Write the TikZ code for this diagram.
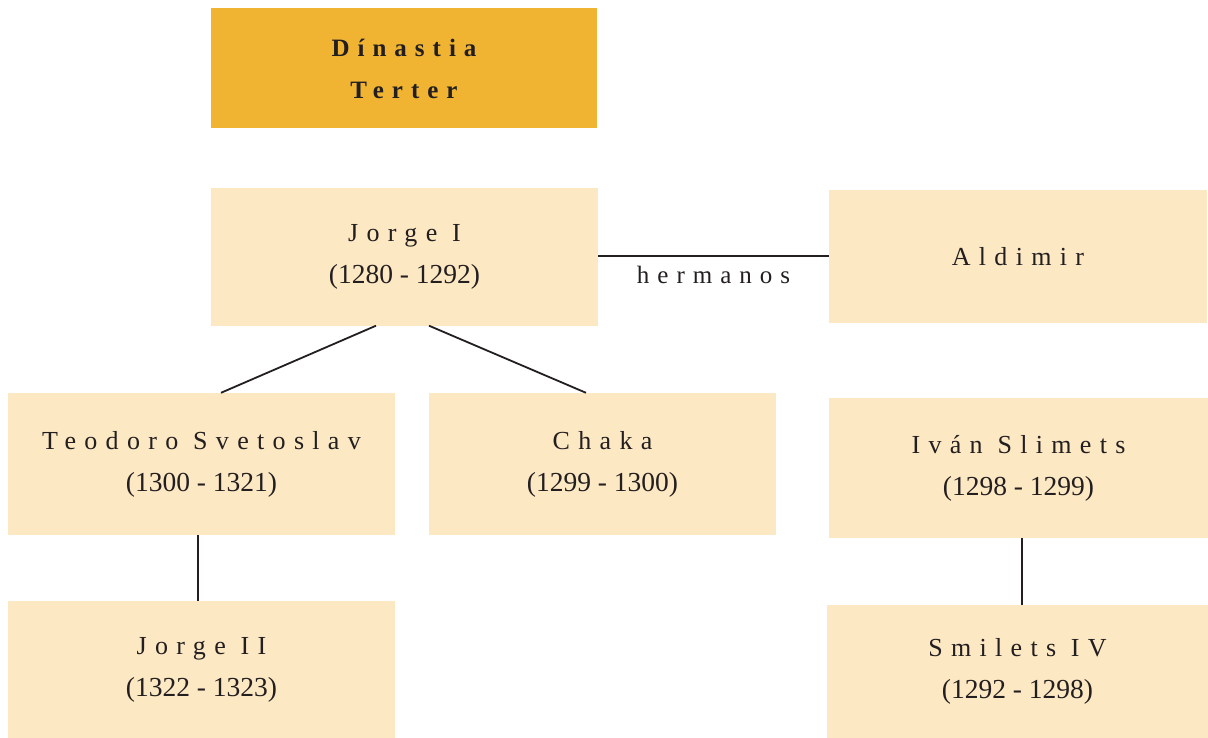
\documentclass[tikz,border=0pt]{standalone}
\usepackage{fontspec}
\setmainfont{Liberation Serif}
\newfontfamily\spacedfont[LetterSpace=32]{Liberation Serif}
\definecolor{gold}{HTML}{F0B432}
\definecolor{cream}{HTML}{FDE8C4}
\definecolor{ink}{HTML}{231F20}
\tikzset{
  box/.style={fill=cream, inner sep=0pt, align=center, text=ink,
    font=\fontsize{26}{42}\selectfont},
  titlebox/.style={fill=gold, inner sep=0pt, align=center, text=ink,
    font=\fontsize{25}{42}\selectfont\bfseries},
  link/.style={draw=ink, line width=1.8pt},
}
\newcommand{\nm}[1]{{\spacedfont #1}}
\newcommand{\dt}[1]{{\fontsize{27.5}{42}\selectfont #1}}
\begin{document}
\begin{tikzpicture}[x=1pt,y=-1pt]
\useasboundingbox (0,0) rectangle (1208,738);
\node[titlebox, minimum width=386pt, minimum height=120pt] (title) at (404,68.5) {\nm{Dínastia}\\\nm{Terter}};
\node[box, minimum width=387pt, minimum height=137pt] (j1) at (404.5,257) {\nm{Jorge I}\\\dt{(1280 - 1292)}};
\node[box, minimum width=378pt, minimum height=133pt] (ald) at (1018,256.5) {\nm{Aldimir}};
\node[box, minimum width=387pt, minimum height=142pt] (teo) at (201.5,464) {\nm{Teodoro Svetoslav}\\\dt{(1300 - 1321)}};
\node[box, minimum width=347pt, minimum height=142pt] (cha) at (602.5,464) {\nm{Chaka}\\\dt{(1299 - 1300)}};
\node[box, minimum width=379pt, minimum height=140pt] (iva) at (1018.5,468) {\nm{Iván Slimets}\\\dt{(1298 - 1299)}};
\node[box, minimum width=387pt, minimum height=137pt] (j2) at (201.5,669.5) {\nm{Jorge II}\\\dt{(1322 - 1323)}};
\node[box, minimum width=381pt, minimum height=133pt] (smi) at (1017.5,671.5) {\nm{Smilets IV}\\\dt{(1292 - 1298)}};
\draw[link] (j1.east |- 0,256) -- (ald.west |- 0,256) node[midway, below=6pt, text=ink, font=\fontsize{25}{30}\selectfont] (herm) {\nm{hermanos}};
\draw[link] (j1.south -| 376,0) -- (teo.north -| 221,0);
\draw[link] (j1.south -| 429,0) -- (cha.north -| 586,0);
\draw[link] (teo.south -| 198,0) -- (j2.north -| 198,0);
\draw[link] (iva.south -| 1022,0) -- (smi.north -| 1022,0);
\end{tikzpicture}
\end{document}
